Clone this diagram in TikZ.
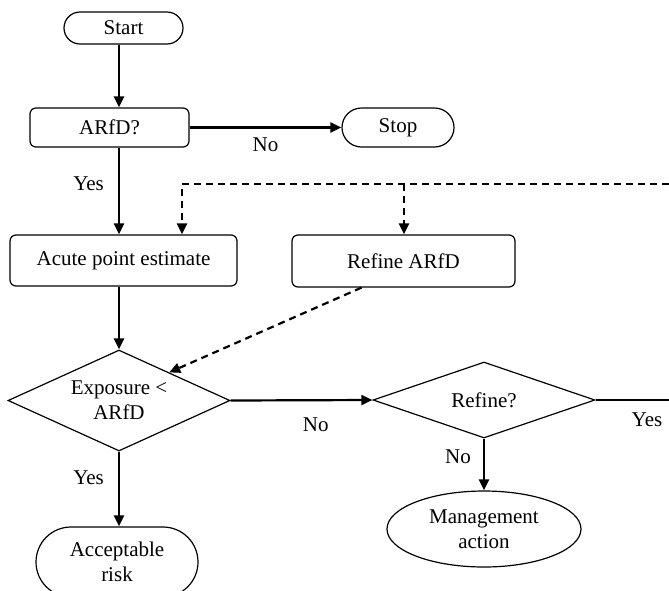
\documentclass[tikz,border=0pt]{standalone}
\usepackage{fontspec}
\setmainfont{Liberation Serif}
\usetikzlibrary{shapes.geometric,shapes.misc,arrows.meta,calc}

\begin{document}
\begin{tikzpicture}[x=0.5pt,y=-0.5pt,
   every node/.style={font=\fontsize{10.5}{12.5}\selectfont},
   procbox/.style={draw,rectangle,rounded corners=3pt,line width=0.6pt,inner sep=0pt},
   termbox/.style={draw,rounded rectangle,line width=0.6pt,inner sep=0pt,align=center},
   decide/.style={draw,diamond,line width=0.6pt,inner sep=0pt,align=center},
   arr/.style={line width=1.1pt,-{Triangle[length=5.5pt,width=5pt]}},
   dasharr/.style={arr,dash pattern=on 3.5pt off 2.5pt},
   lbl/.style={inner sep=0pt}]
   \useasboundingbox (0,0) rectangle (669,590);
   % boxes
   \node[termbox,minimum width=59.5pt,minimum height=16pt] (start) at (123.5,28) {Start};
   \node[procbox,minimum width=79.5pt,minimum height=19.5pt] (arfd) at (109.5,127.5) {ARfD?};
   \node[termbox,minimum width=56pt,minimum height=19.5pt] (stop) at (398,127.5) {Stop};
   \node[procbox,minimum width=113.5pt,minimum height=25.5pt] (acute) at (123.5,260.5) {Acute point estimate};
   \node[procbox,minimum width=111.5pt,minimum height=26pt] (refine) at (403.5,261) {Refine ARfD};
   \node[decide,minimum width=111pt,minimum height=50.5pt,aspect=2.2] (expo) at (119,400.5) {Exposure <\\ARfD};
   \node[decide,minimum width=111pt,minimum height=38pt,aspect=2.9] (refq) at (484,400) {Refine?};
   \node[draw,ellipse,line width=0.6pt,minimum width=97pt,minimum height=38pt,inner sep=0pt,align=center] (mgmt) at (484,529) {Management\\action};
   \node[termbox,minimum width=81pt,minimum height=35pt] (accept) at (117,562) {Acceptable\\risk};
   % feedback line
   \coordinate (fb) at (669,184);
   \coordinate (fbA) at (182,184);
   \coordinate (fbB) at (404,184);
   \coordinate (exit) at (669,400);
   % connectors
   \draw[arr] (start.south -| expo.north) -- (arfd.north -| expo.north);
   \draw[arr] (arfd.east) -- (stop.west) node[lbl,midway,below=4.5pt] {No};
   \draw[arr] (arfd.south -| expo.north) -- (acute.north -| expo.north) node[lbl,pos=0.42,left=7pt] {Yes};
   \draw[dasharr] (fb) -- (fbA) -- (fbA |- acute.north);
   \draw[dasharr] (fbB) -- (fbB |- refine.north);
   \draw[arr] (acute.south -| expo.north) -- (expo.north);
   \draw[dasharr] ($(refine.south)+(-42,0)$) -- ($(expo.north)!0.45!(expo.east)$);
   \draw[arr] (expo.east) -- (refq.west) node[lbl,pos=0.6,below=8pt] {No};
   \draw[line width=0.6pt] (refq.east) -- (exit) node[lbl,pos=0.7,below=6pt] {Yes};
   \draw[arr] (refq.south) -- (mgmt.north) node[lbl,pos=0.35,left=6pt] {No};
   \draw[arr] (expo.south) -- (expo.south |- accept.north) node[lbl,pos=0.35,left=7pt] {Yes};
\end{tikzpicture}
\end{document}
